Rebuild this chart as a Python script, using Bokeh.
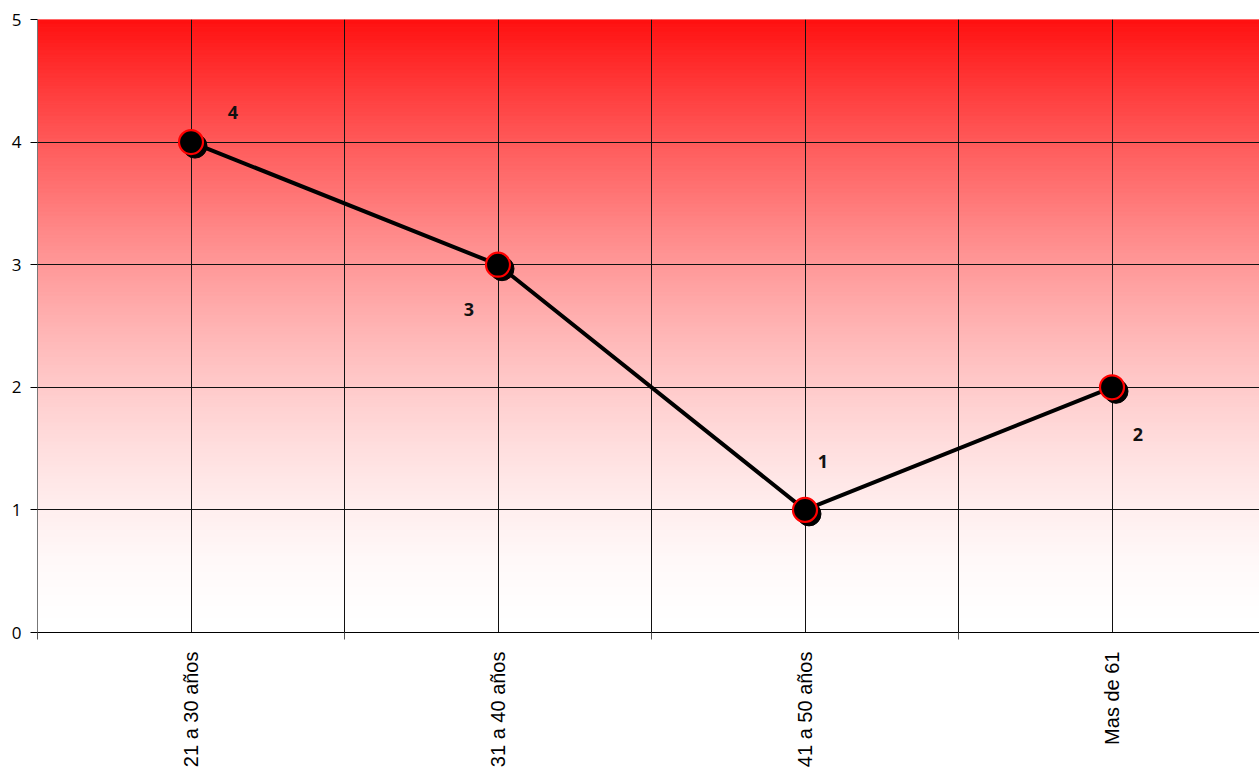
import numpy as np
from bokeh.plotting import figure
from bokeh.models import Range1d, FixedTicker, ColumnDataSource
from bokeh.core.properties import value
from bokeh.transform import dodge
from bokeh.embed import file_html
from bokeh.resources import INLINE

categories = ["21 a 30 años", "31 a 40 años", "41 a 50 años", "Mas de 61"]
values = [4, 3, 1, 2]
y_ticks = [0, 1, 2, 3, 4, 5]

FONT = "Open Sans"
LFONT = "Liberation Sans"
n = len(categories)
centers = [i + 0.5 for i in range(n)]
bounds = list(range(n + 1))

W, H = 1259, 773
left, right, top, bottom = 37, 0, 19, 141
frame_w = W - left - right
frame_h = H - top - bottom
cat_px = 307.0
x_end = frame_w / cat_px
y_px = frame_h / 5.0

p = figure(width=W, height=H, output_backend="svg", toolbar_location=None,
           x_range=Range1d(0, x_end), y_range=Range1d(0, 5),
           min_border_left=left, min_border_right=right,
           min_border_top=top, min_border_bottom=bottom)
p.outline_line_color = None
p.background_fill_color = "white"
p.border_fill_color = "white"

# gradient background (red at top -> white at bottom)
ns = 160
edges = np.linspace(0, 5, ns + 1)
cols = []
for i in range(ns):
    t = (edges[i] + edges[i + 1]) / 2 / 5.0  # 0 bottom, 1 top
    g = int(round(255 - (t ** 1.65) * (255 - 16)))
    cols.append("#%02x%02x%02x" % (255, g, g))
bg = p.quad(left=0, right=x_end, bottom=edges[:-1], top=edges[1:],
            fill_color=cols, line_color=cols, line_width=1.2)
bg.level = "image"

# axes
p.xaxis.ticker = FixedTicker(ticks=centers, minor_ticks=bounds)
p.xaxis.major_label_overrides = {c: lab for c, lab in zip(centers, categories)}
p.xaxis.major_tick_out = 0
p.xaxis.major_tick_in = 0
p.xaxis.minor_tick_out = 7
p.xaxis.minor_tick_in = 0
p.xaxis.minor_tick_line_color = "#555555"
p.xaxis.axis_line_color = "black"
p.xaxis.major_label_orientation = np.pi / 2
p.xaxis.major_label_standoff = 12
p.xaxis.major_label_text_font = LFONT
p.xaxis.major_label_text_font_size = "20px"
p.xaxis.major_label_text_color = "black"

p.yaxis.ticker = FixedTicker(ticks=y_ticks)
p.yaxis.minor_tick_line_color = None
p.yaxis.major_tick_out = 7
p.yaxis.major_tick_in = 0
p.yaxis.axis_line_color = "#777777"
p.yaxis.major_label_text_font = FONT
p.yaxis.major_label_text_font_size = "17px"
p.yaxis.major_label_text_color = "black"
p.yaxis.major_label_standoff = 9

for g in (p.xgrid, p.ygrid):
    g.grid_line_color = "#111111"
    g.grid_line_width = 1
    g.level = "underlay"
p.xgrid.minor_grid_line_color = "#111111"
p.xgrid.minor_grid_line_width = 1

src = ColumnDataSource(dict(x=centers, y=values, lab=[str(v) for v in values],
                            dx=[42, -29, 18, 26], dy=[-30, 45, -48, 47]))

p.line("x", "y", source=src, line_color="black", line_width=4)
# shadow
p.scatter(x=dodge("x", 4 / cat_px), y=dodge("y", -4 / y_px), source=src,
          size=24, fill_color="black", line_color="black", line_width=1)
p.scatter("x", "y", source=src, size=24, fill_color="black",
          line_color="#ff0000", line_width=2.2)
p.text("x", "y", text="lab", source=src, x_offset="dx", y_offset="dy",
       text_align="center", text_baseline="middle",
       text_font=value(FONT), text_font_size="18px", text_font_style="bold",
       text_color="#111111")

open("out.html", "w").write(file_html(p, INLINE))
